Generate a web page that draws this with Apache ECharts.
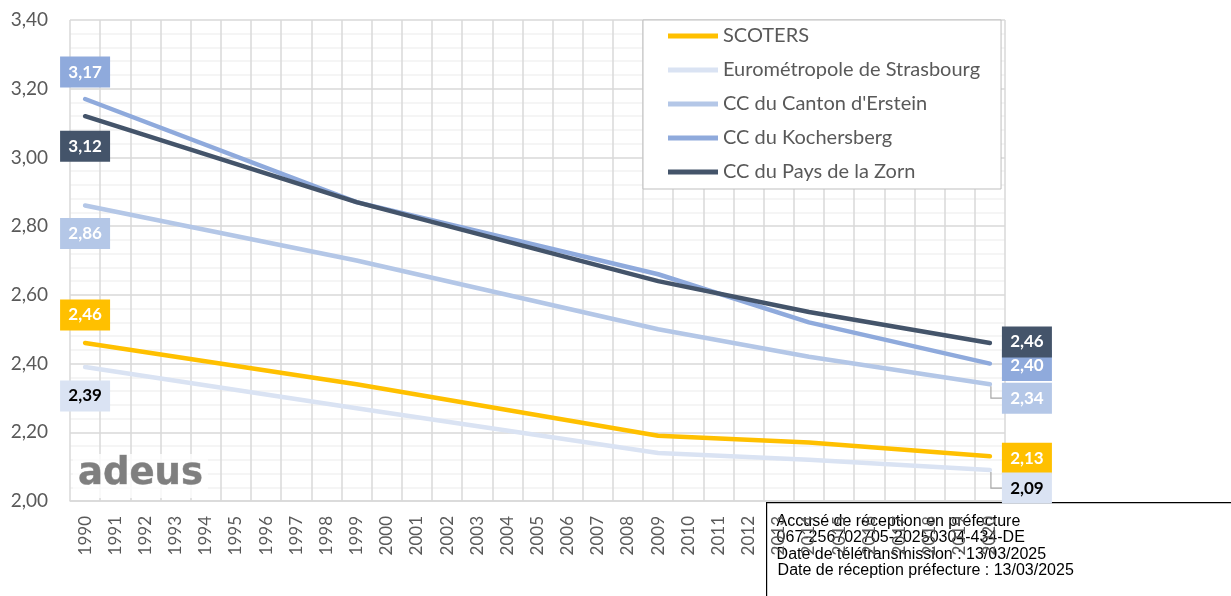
<!DOCTYPE html>
<html>
<head>
<meta charset="utf-8">
<script src="https://cdn.jsdelivr.net/npm/echarts@6/dist/echarts.min.js"></script>
<style>
  html, body { margin: 0; padding: 0; background: #fff; }
  #main { width: 1231px; height: 596px; }
</style>
</head>
<body>
<div id="main"></div>
<script>
  // categories (x axis)
  var years = ['1990', '1991', '1992', '1993', '1994', '1995', '1996', '1997', '1998', '1999',
    '2000', '2001', '2002', '2003', '2004', '2005', '2006', '2007', '2008', '2009',
    '2010', '2011', '2012', '2013', '2014', '2015', '2016', '2017', '2018', '2019', '2020'];
  // years where a value is known (others are left empty and joined)
  var pointYears = ['1990', '1999', '2009', '2014', '2020'];
  var scoters     = [2.46, 2.34, 2.19, 2.17, 2.13];
  var strasbourg  = [2.39, 2.27, 2.14, 2.12, 2.09];
  var erstein     = [2.86, 2.70, 2.50, 2.42, 2.34];
  var kochersberg = [3.17, 2.87, 2.66, 2.52, 2.40];
  var zorn        = [3.12, 2.87, 2.64, 2.55, 2.46];

  var yTicks = { min: 2.0, max: 3.4, interval: 0.2 };

  var FONT = 'Lato';
  var fmt = function (v) { return v.toFixed(2).replace('.', ','); };

  var seriesDefs = [
    { name: 'SCOTERS', values: scoters, color: '#FFC000', text: '#fff', leftDy: -28, rightDy: 2 },
    { name: 'Eurométropole de Strasbourg', values: strasbourg, color: '#DAE3F3', text: '#000', leftDy: 29, rightDy: 18, leader: true },
    { name: "CC du Canton d'Erstein", values: erstein, color: '#B4C7E7', text: '#fff', leftDy: 28, rightDy: 14, leader: true },
    { name: 'CC du Kochersberg', values: kochersberg, color: '#8FAADC', text: '#fff', leftDy: -27, rightDy: 2 },
    { name: 'CC du Pays de la Zorn', values: zorn, color: '#44546A', text: '#fff', leftDy: 30, rightDy: -1 }
  ];

  function labelBox(def, dx, dy) {
    return {
      show: true,
      position: 'inside',
      offset: [dx, dy],
      formatter: function (p) { return fmt(p.value); },
      backgroundColor: def.color,
      color: def.text,
      fontFamily: FONT,
      fontWeight: 'bold',
      fontSize: 17,
      width: 36,
      align: 'center',
      lineHeight: 19,
      padding: [6, 7, 6, 7]
    };
  }

  var series = seriesDefs.map(function (def) {
    var last = years.length - 1;
    var data = years.map(function (y, i) {
      var k = pointYears.indexOf(y);
      if (k < 0) return null;
      var item = { value: def.values[k] };
      if (i === 0) item.label = labelBox(def, 0, def.leftDy);
      if (i === last) item.label = labelBox(def, 37, def.rightDy);
      return item;
    });
    return {
      name: def.name,
      type: 'line',
      data: data,
      connectNulls: true,
      color: def.color,
      symbol: 'circle',
      symbolSize: 0.1,
      showSymbol: true,
      showAllSymbol: true,
      lineStyle: { width: 4.5, color: def.color, cap: 'round', join: 'round' },
      label: { show: false },
      emphasis: { disabled: true },
      animation: false
    };
  });

  var chart = echarts.init(document.getElementById('main'));
  chart.setOption({
    animation: false,
    grid: { left: 70, right: 226, top: 20, bottom: 95 },
    legend: {
      orient: 'vertical',
      left: 643,
      top: 20,
      icon: 'rect',
      itemWidth: 50,
      itemHeight: 5,
      itemGap: 12,
      padding: [5, 21, 6, 25],
      backgroundColor: '#fff',
      borderColor: '#BFBFBF',
      borderWidth: 1,
      textStyle: { fontFamily: FONT, fontSize: 20, color: '#595959', lineHeight: 22 },
      data: seriesDefs.map(function (d) { return d.name; })
    },
    xAxis: {
      type: 'category',
      data: years,
      boundaryGap: true,
      axisLine: { lineStyle: { color: '#D9D9D9', width: 1.5 } },
      axisTick: { show: false },
      splitLine: { show: true, lineStyle: { color: '#D9D9D9', width: 1.5 } },
      axisLabel: { rotate: 90, margin: 15, fontFamily: FONT, fontSize: 17, color: '#595959', interval: 0 }
    },
    yAxis: {
      type: 'value',
      min: yTicks.min,
      max: yTicks.max,
      interval: yTicks.interval,
      axisLine: { show: false },
      axisTick: { show: false },
      axisLabel: { margin: 22, fontFamily: FONT, fontSize: 19, color: '#595959', formatter: fmt },
      splitLine: { lineStyle: { color: '#D9D9D9', width: 1.5 } },
      minorTick: { show: false, splitNumber: 5 },
      minorSplitLine: { show: true, lineStyle: { color: '#F2F2F2', width: 1.5 } }
    },
    series: series
  });

  // leader lines from the last point to the moved label, stamp and logo
  var graphics = [];
  var last = years.length - 1;
  seriesDefs.forEach(function (def) {
    if (!def.leader) return;
    var p = chart.convertToPixel({ xAxisIndex: 0, yAxisIndex: 0 }, [last, def.values[def.values.length - 1]]);
    var ly = p[1] + def.rightDy;
    graphics.push({
      type: 'polyline', z: 50,
      shape: { points: [[p[0] + 1, p[1] + 2], [p[0] + 1, ly], [p[0] + 12, ly]] },
      style: { stroke: '#A6A6A6', lineWidth: 1.2, fill: null }
    });
  });

  graphics.push({
    type: 'group', left: 73, top: 454, z: 40,
    children: [
      { type: 'rect', shape: { x: 0, y: 0, width: 135, height: 44 }, style: { fill: 'rgba(255,255,255,0.8)' } },
      {
        type: 'text', x: 5, y: 2,
        style: { text: 'adeus', font: 'bold 37px "DejaVu Sans"', fill: '#7f7f7f', stroke: '#a0a0a0', lineWidth: 0.6 }
      }
    ]
  });

  var stampFont = '16px "Liberation Sans"';
  graphics.push({
    type: 'group', left: 766, top: 502, z: 100,
    children: [
      { type: 'rect', shape: { x: 0, y: 0, width: 480, height: 110 }, style: { fill: 'rgba(255,255,255,0.95)', stroke: '#000', lineWidth: 1.2 } },
      { type: 'text', x: 10, y: 11, style: { text: 'Accusé de réception en préfecture', font: stampFont, fill: '#000' } },
      { type: 'text', x: 10, y: 27, style: { text: '067-256702705-20250304-434-DE', font: stampFont, fill: '#000' } },
      { type: 'text', x: 10, y: 44, style: { text: 'Date de télétransmission : 13/03/2025', font: stampFont, fill: '#000' } },
      { type: 'text', x: 11, y: 60, style: { text: 'Date de réception préfecture : 13/03/2025', font: stampFont, fill: '#000' } }
    ]
  });

  chart.setOption({ graphic: graphics });
</script>
</body>
</html>
